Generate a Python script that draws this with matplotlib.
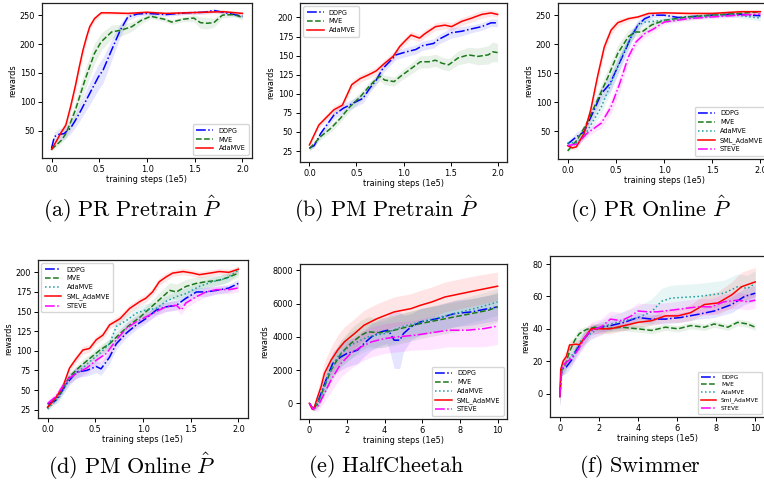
import numpy as np
import matplotlib
matplotlib.use("Agg")
import matplotlib.pyplot as plt

plt.rcParams['mathtext.fontset'] = 'cm'
plt.rcParams['font.family'] = ['DejaVu Sans']

# ---------------- Panel (a) PR Pretrain ----------------
a_x_ddpg = [0, 0.03, 0.08, 0.13, 0.2, 0.25, 0.31, 0.42, 0.49, 0.54, 0.63, 0.72, 0.8, 0.9, 1.0, 1.2, 1.4, 1.6, 1.7, 1.8, 2.0]
a_ddpg = [20, 40, 44, 45, 55, 68, 86, 121, 143, 155, 190, 224, 247, 252, 253, 251, 254, 255, 258, 255, 248]
a_ddpg_sd = [3, 8, 10, 10, 10, 12, 15, 20, 22, 22, 18, 12, 6, 4, 3, 3, 3, 3, 3, 3, 3]
a_x_mve = [0, 0.1, 0.15, 0.2, 0.25, 0.35, 0.45, 0.52, 0.63, 0.73, 0.84, 0.94, 1.04, 1.18, 1.26, 1.38, 1.49, 1.56, 1.63, 1.7, 1.79, 1.91, 2.0]
a_mve = [18, 33, 45, 65, 86, 138, 184, 204, 221, 224, 230, 241, 248, 243, 238, 243, 245, 237, 236, 237, 250, 251, 246]
a_mve_sd = [3, 5, 8, 12, 15, 18, 18, 15, 12, 10, 8, 6, 4, 4, 4, 4, 6, 10, 10, 8, 5, 4, 4]
a_x_ada = [0, 0.05, 0.1, 0.15, 0.2, 0.25, 0.29, 0.33, 0.37, 0.4, 0.45, 0.52, 0.6, 0.8, 1.0, 1.2, 1.4, 1.6, 1.8, 2.0]
a_ada = [18, 32, 47, 60, 92, 128, 160, 190, 214, 230, 244, 254, 254, 253, 255, 253, 254, 255, 256, 253]
a_ada_sd = [3, 5, 7, 8, 10, 12, 12, 10, 9, 7, 5, 3, 3, 3, 3, 3, 3, 3, 3, 3]

# ---------------- Panel (b) PM Pretrain ----------------
b_x_ddpg = [0, 0.05, 0.12, 0.26, 0.36, 0.47, 0.57, 0.64, 0.71, 0.78, 0.85, 0.92, 1.03, 1.13, 1.2, 1.32, 1.37, 1.51, 1.62, 1.72, 1.83, 1.93, 2.0]
b_ddpg = [29, 32, 48, 72, 81, 88, 94, 107, 118, 133, 142, 151, 155, 158, 163, 166, 171, 180, 182, 185, 188, 193, 193]
b_ddpg_sd = [3, 3, 4, 5, 6, 6, 6, 6, 6, 6, 6, 6, 6, 6, 6, 6, 6, 7, 6, 5, 5, 5, 5]
b_x_mve = [0, 0.12, 0.23, 0.33, 0.43, 0.54, 0.63, 0.7, 0.75, 0.8, 0.9, 0.97, 1.08, 1.18, 1.27, 1.34, 1.41, 1.48, 1.58, 1.69, 1.79, 1.9, 1.95, 2.0]
b_mve = [28, 44, 55, 68, 83, 96, 109, 118, 123, 118, 116, 123, 133, 142, 142, 144, 140, 138, 147, 151, 149, 151, 155, 154]
b_mve_sd = [3, 4, 5, 5, 6, 6, 6, 6, 6, 6, 6, 6, 7, 8, 8, 8, 8, 8, 9, 10, 11, 12, 13, 12]
b_x_ada = [0, 0.1, 0.26, 0.35, 0.45, 0.54, 0.63, 0.71, 0.8, 0.89, 0.96, 1.03, 1.08, 1.17, 1.23, 1.34, 1.44, 1.51, 1.62, 1.72, 1.83, 1.93, 2.0]
b_ada = [33, 59, 79, 85, 112, 120, 125, 130, 140, 149, 162, 171, 177, 173, 179, 188, 190, 188, 195, 199, 204, 206, 204]
b_ada_sd = [3, 4, 5, 5, 5, 5, 5, 5, 5, 5, 5, 5, 5, 5, 5, 5, 5, 5, 5, 5, 5, 4, 4]

# ---------------- Panel (c) PR Online ----------------
c_x_ddpg = [0, 0.09, 0.17, 0.26, 0.35, 0.44, 0.52, 0.6, 0.66, 0.73, 0.8, 0.89, 1.0, 1.15, 1.5, 1.75, 2.0]
c_ddpg = [28, 40, 49, 81, 115, 132, 161, 190, 213, 233, 244, 250, 250, 246, 250, 252, 249]
c_ddpg_sd = [4, 8, 8, 10, 12, 14, 14, 12, 10, 8, 6, 4, 3, 3, 3, 3, 3]
c_x_mve = [0, 0.1, 0.2, 0.31, 0.42, 0.52, 0.63, 0.7, 0.77, 0.87, 1.0, 1.25, 1.5, 1.78, 2.0]
c_mve = [16, 35, 64, 104, 144, 184, 213, 221, 221, 233, 241, 247, 250, 253, 256]
c_mve_sd = [3, 5, 8, 12, 14, 14, 12, 8, 6, 5, 4, 4, 3, 3, 3]
c_x_ada = [0, 0.1, 0.2, 0.35, 0.45, 0.56, 0.66, 0.73, 0.8, 1.0, 1.5, 1.75, 2.0]
c_ada = [30, 30, 49, 92, 132, 178, 213, 233, 238, 241, 250, 250, 245]
c_ada_sd = [4, 5, 8, 12, 14, 12, 10, 8, 6, 4, 4, 4, 5]
c_x_sml = [0, 0.05, 0.09, 0.17, 0.24, 0.31, 0.38, 0.45, 0.52, 0.63, 0.73, 0.84, 1.0, 1.25, 1.5, 1.8, 2.0]
c_sml = [25, 21, 23, 46, 87, 144, 195, 224, 237, 244, 247, 253, 254, 253, 253, 256, 256]
c_sml_sd = [3, 3, 4, 6, 10, 12, 10, 8, 6, 4, 3, 3, 3, 3, 3, 3, 3]
c_x_steve = [0, 0.1, 0.2, 0.35, 0.45, 0.54, 0.63, 0.71, 0.8, 0.9, 1.0, 1.25, 1.5, 1.78, 2.0]
c_steve = [25, 28, 46, 64, 92, 132, 178, 204, 218, 227, 238, 244, 247, 250, 252]
c_steve_sd = [3, 4, 6, 8, 12, 14, 12, 8, 6, 5, 4, 3, 3, 3, 3]

# ---------------- Panel (d) PM Online ----------------
d_x_ddpg = [0, 0.09, 0.2, 0.3, 0.41, 0.51, 0.56, 0.65, 0.72, 0.83, 0.93, 1.03, 1.14, 1.24, 1.35, 1.45, 1.56, 1.66, 1.77, 1.9, 2.0]
d_ddpg = [32, 37, 58, 73, 75, 80, 77, 92, 109, 123, 133, 141, 152, 156, 158, 167, 175, 175, 177, 180, 186]
d_ddpg_sd = [3, 4, 6, 7, 7, 8, 8, 8, 7, 6, 6, 6, 6, 6, 6, 6, 6, 6, 5, 5, 5]
d_x_mve = [0, 0.13, 0.23, 0.34, 0.44, 0.55, 0.65, 0.76, 0.86, 0.97, 1.07, 1.17, 1.28, 1.35, 1.45, 1.56, 1.66, 1.8, 1.9, 2.0]
d_mve = [28, 46, 67, 80, 90, 101, 109, 122, 133, 143, 154, 165, 177, 175, 182, 186, 188, 190, 194, 199]
d_mve_sd = [3, 4, 5, 6, 6, 6, 6, 6, 6, 7, 8, 9, 10, 10, 9, 8, 7, 6, 6, 5]
d_x_ada = [0, 0.13, 0.23, 0.34, 0.44, 0.55, 0.65, 0.72, 0.83, 0.93, 1.03, 1.14, 1.24, 1.35, 1.45, 1.59, 1.73, 1.87, 2.0]
d_ada = [26, 42, 65, 75, 86, 97, 109, 131, 139, 148, 152, 154, 163, 169, 173, 182, 188, 192, 203]
d_ada_sd = [3, 5, 7, 7, 7, 7, 7, 8, 8, 8, 8, 8, 7, 7, 7, 6, 6, 6, 5]
d_x_sml = [0, 0.09, 0.16, 0.23, 0.3, 0.37, 0.44, 0.51, 0.58, 0.65, 0.76, 0.86, 0.97, 1.03, 1.1, 1.17, 1.24, 1.31, 1.42, 1.52, 1.59, 1.7, 1.8, 1.9, 2.0]
d_sml = [28, 41, 54, 78, 90, 101, 103, 114, 120, 133, 141, 154, 163, 167, 175, 188, 194, 199, 201, 199, 197, 199, 201, 200, 204]
d_sml_sd = [3, 4, 5, 5, 5, 5, 5, 5, 5, 5, 5, 5, 5, 5, 5, 5, 5, 4, 4, 4, 4, 4, 4, 4, 4]
d_x_steve = [0, 0.09, 0.2, 0.3, 0.41, 0.51, 0.62, 0.72, 0.83, 0.93, 1.03, 1.14, 1.24, 1.35, 1.4, 1.45, 1.56, 1.66, 1.77, 1.9, 2.0]
d_steve = [33, 42, 63, 71, 78, 88, 97, 114, 129, 137, 143, 150, 156, 158, 152, 161, 169, 175, 178, 178, 180]
d_steve_sd = [4, 5, 6, 7, 7, 7, 7, 7, 7, 7, 6, 6, 6, 6, 6, 6, 6, 6, 5, 5, 5]

# ---------------- Panel (e) HalfCheetah ----------------
e_x_ddpg = [0, 0.2, 0.35, 0.62, 0.88, 1.24, 1.68, 2.0, 2.56, 2.9, 3.3, 3.8, 4.15, 4.3, 4.5, 4.8, 5.0, 5.4, 5.9, 6.8, 7.7, 8.6, 9.5, 10]
e_ddpg = [0, -350, -200, 600, 1400, 2400, 2800, 3000, 3200, 3600, 4000, 4300, 4400, 4200, 3800, 3800, 4200, 4600, 4900, 5100, 5400, 5500, 5700, 5800]
e_ddpg_sd = [50, 100, 200, 400, 600, 700, 800, 800, 800, 800, 800, 800, 800, 1200, 1700, 1700, 1100, 800, 800, 800, 800, 800, 800, 800]
e_x_mve = [0, 0.2, 0.44, 0.8, 1.15, 1.68, 2.2, 2.75, 3.1, 3.8, 4.5, 5.2, 5.9, 6.8, 7.7, 8.6, 9.5, 10]
e_mve = [0, -350, 0, 1000, 2000, 3000, 3600, 4100, 4300, 4250, 4400, 4600, 4800, 5000, 5200, 5400, 5600, 5800]
e_mve_sd = [50, 100, 300, 500, 700, 800, 900, 900, 900, 900, 900, 900, 900, 900, 900, 900, 900, 900]
e_x_ada = [0, 0.2, 0.62, 0.97, 1.5, 2.2, 3.1, 4.0, 4.9, 5.9, 7.0, 8.05, 9.1, 10]
e_ada = [0, -350, 400, 1600, 2800, 3500, 4000, 4200, 4600, 4900, 5200, 5500, 5800, 6100]
e_ada_sd = [50, 100, 400, 600, 700, 800, 800, 800, 800, 800, 800, 800, 800, 800]
e_x_sml = [0, 0.15, 0.27, 0.44, 0.62, 0.8, 1.15, 1.5, 1.86, 2.4, 2.9, 3.6, 4.5, 5.4, 5.9, 6.5, 7.2, 8.05, 8.9, 10]
e_sml = [0, -360, -200, 400, 1000, 1800, 2600, 3200, 3700, 4200, 4700, 5100, 5500, 5700, 5900, 6100, 6400, 6600, 6800, 7050]
e_sml_sd = [50, 100, 200, 400, 600, 700, 800, 900, 900, 900, 900, 900, 900, 900, 900, 900, 900, 900, 900, 850]
e_x_steve = [0, 0.2, 0.44, 0.8, 1.15, 1.68, 2.2, 2.75, 3.3, 4.0, 4.7, 5.6, 6.5, 7.4, 8.4, 9.3, 10]
e_steve = [0, -350, -200, 600, 1400, 2400, 3000, 3400, 3700, 3900, 4000, 4100, 4250, 4400, 4400, 4500, 4650]
e_steve_sd = [50, 100, 300, 500, 700, 800, 900, 900, 900, 900, 900, 900, 1000, 1000, 1000, 1100, 1100]

# ---------------- Panel (f) Swimmer ----------------
f_x_ddpg = [0, 0.1, 0.34, 0.6, 0.85, 1.2, 1.6, 2.1, 2.6, 3.3, 4.0, 4.7, 5.4, 6.2, 7.1, 7.9, 8.8, 9.45, 10]
f_ddpg = [-2, 15, 16.5, 20.6, 27, 33, 39, 41, 42, 44, 47, 46, 46, 47, 49, 51, 55, 60, 62]
f_ddpg_sd = [6, 4, 4, 4, 4, 4, 3, 3, 3, 3, 3, 3, 3, 3, 3, 4, 5, 5, 5]
f_x_mve = [0, 0.1, 0.25, 0.5, 0.77, 1.0, 1.36, 1.8, 2.3, 3.15, 4.0, 4.7, 5.4, 6.05, 6.7, 7.4, 7.9, 8.6, 9.1, 9.6, 10]
f_mve = [-2, 15, 16.5, 26, 33, 37, 39.6, 41, 40, 41, 40, 39, 41, 40, 42, 41, 43, 41, 44, 43, 41]
f_mve_sd = [6, 4, 4, 4, 3, 3, 2, 2, 2, 2, 2, 2, 2, 2, 2, 2, 2, 2, 2, 2, 2]
f_x_ada = [0, 0.1, 0.43, 0.77, 1.1, 1.45, 1.96, 2.6, 3.3, 4.0, 4.7, 5.2, 5.7, 6.4, 7.1, 7.75, 8.4, 9.1, 9.6, 10]
f_ada = [-2, 15, 20.6, 26, 33, 36, 40, 43, 45, 47, 50.5, 57, 59, 59.5, 60, 61, 62, 66, 65, 68]
f_ada_sd = [6, 4, 4, 4, 4, 4, 4, 5, 6, 7, 8, 8, 8, 8, 8, 8, 8, 8, 8, 8]
f_x_sml = [0, 0.05, 0.17, 0.34, 0.5, 0.85, 1.0, 1.3, 1.6, 2.1, 2.6, 3.3, 4.0, 4.7, 5.4, 6.05, 6.7, 7.4, 8.1, 8.8, 9.3, 10]
f_sml = [-2, 15, 20, 23, 30, 30.5, 30, 35, 40, 40, 40, 42, 44, 45, 48, 48, 50, 55, 56, 61, 66, 69]
f_sml_sd = [6, 4, 4, 4, 3, 3, 3, 3, 3, 3, 3, 3, 3, 3, 4, 4, 5, 6, 7, 8, 9, 9]
f_x_steve = [0, 0.1, 0.25, 0.6, 0.94, 1.3, 1.6, 2.1, 2.6, 3.15, 3.66, 4.0, 4.5, 5.0, 5.7, 6.4, 7.1, 7.75, 8.4, 9.1, 9.6, 10]
f_steve = [-2, 15, 18.6, 21.6, 27, 35, 39, 41, 46, 45, 48, 51, 50.5, 50.5, 51.5, 52.6, 53.6, 53.6, 56.7, 57.7, 56.7, 57.7]
f_steve_sd = [6, 4, 4, 4, 4, 5, 5, 5, 5, 5, 5, 5, 5, 5, 5, 5, 5, 5, 5, 5, 5, 5]

captions = [r"$\mathrm{(a)\ PR\ Pretrain}\ \hat{P}$",
            r"$\mathrm{(b)\ PM\ Pretrain}\ \hat{P}$",
            r"$\mathrm{(c)\ PR\ Online}\ \hat{P}$",
            r"$\mathrm{(d)\ PM\ Online}\ \hat{P}$",
            r"$\mathrm{(e)\ HalfCheetah}$",
            r"$\mathrm{(f)\ Swimmer}$"]

C_DDPG = '#0000ff'
C_MVE = '#1a7a1a'
C_RED = '#ff0000'
C_TEAL = '#1a9e9e'
C_MAG = '#ff00ff'

W, H = 764, 483
fig = plt.figure(figsize=(W / 100, H / 100), dpi=100)


def add_ax(left, top, right, bottom):
    return fig.add_axes([left / W, 1 - bottom / H, (right - left) / W, (bottom - top) / H])


def curve(ax, x, y, sd, color, ls, label, lw=1.1):
    x = np.asarray(x, float)
    y = np.asarray(y, float)
    sd = np.asarray(sd, float)
    ax.fill_between(x, y - sd, y + sd, color=color, alpha=0.1, lw=0)
    ax.plot(x, y, color=color, ls=ls, lw=lw, label=label)


def style(ax, ylim, xticks, loc, legfs=4.7):
    ax.set_ylim(*ylim)
    ax.set_xticks(xticks)
    ax.tick_params(labelsize=5.9, length=3, width=0.7, pad=2)
    ax.set_xlabel("training steps (1e5)", fontsize=5.9, labelpad=1)
    ax.set_ylabel("rewards", fontsize=5.9, labelpad=2)
    for s in ax.spines.values():
        s.set_linewidth(0.9)
        s.set_color('#222222')
    ax.legend(loc=loc, fontsize=legfs, handlelength=2.6, borderpad=0.5,
              labelspacing=0.45, framealpha=0.8)


# (a)
ax = add_ax(42, 3, 252, 158)
curve(ax, a_x_ddpg, a_ddpg, a_ddpg_sd, C_DDPG, '-.', 'DDPG')
curve(ax, a_x_mve, a_mve, a_mve_sd, C_MVE, '--', 'MVE')
curve(ax, a_x_ada, a_ada, a_ada_sd, C_RED, '-', 'AdaMVE')
style(ax, (3, 271), [0, 0.5, 1.0, 1.5, 2.0], 'lower right')

# (b)
ax = add_ax(300, 3, 507, 162)
curve(ax, b_x_ddpg, b_ddpg, b_ddpg_sd, C_DDPG, '-.', 'DDPG')
curve(ax, b_x_mve, b_mve, b_mve_sd, C_MVE, '--', 'MVE')
curve(ax, b_x_ada, b_ada, b_ada_sd, C_RED, '-', 'AdaMVE')
style(ax, (10.6, 219), [0, 0.5, 1.0, 1.5, 2.0], 'upper left')

# (c)
ax = add_ax(558, 3, 770, 159)
curve(ax, c_x_ddpg, c_ddpg, c_ddpg_sd, C_DDPG, '-.', 'DDPG')
curve(ax, c_x_mve, c_mve, c_mve_sd, C_MVE, '--', 'MVE')
curve(ax, c_x_ada, c_ada, c_ada_sd, C_TEAL, ':', 'AdaMVE')
curve(ax, c_x_sml, c_sml, c_sml_sd, C_RED, '-', 'SML_AdaMVE')
curve(ax, c_x_steve, c_steve, c_steve_sd, C_MAG, '-.', 'STEVE')
style(ax, (2, 271), [0, 0.5, 1.0, 1.5, 2.0], 'lower right')

# (d)
ax = add_ax(38, 260, 248, 418)
curve(ax, d_x_ddpg, d_ddpg, d_ddpg_sd, C_DDPG, '-.', 'DDPG')
curve(ax, d_x_mve, d_mve, d_mve_sd, C_MVE, '--', 'MVE')
curve(ax, d_x_ada, d_ada, d_ada_sd, C_TEAL, ':', 'AdaMVE')
curve(ax, d_x_sml, d_sml, d_sml_sd, C_RED, '-', 'SML_AdaMVE')
curve(ax, d_x_steve, d_steve, d_steve_sd, C_MAG, '-.', 'STEVE')
style(ax, (14.4, 215.7), [0, 0.5, 1.0, 1.5, 2.0], 'upper left')

# (e)
ax = add_ax(300, 264, 507, 419)
curve(ax, e_x_ddpg, e_ddpg, e_ddpg_sd, C_DDPG, '-.', 'DDPG')
curve(ax, e_x_mve, e_mve, e_mve_sd, C_MVE, '--', 'MVE')
curve(ax, e_x_ada, e_ada, e_ada_sd, C_TEAL, ':', 'AdaMVE')
curve(ax, e_x_sml, e_sml, e_sml_sd, C_RED, '-', 'SML_AdaMVE')
curve(ax, e_x_steve, e_steve, e_steve_sd, C_MAG, '-.', 'STEVE')
style(ax, (-946, 8386), [0, 2, 4, 6, 8, 10], 'lower right')

# (f)
ax = add_ax(550, 256, 765, 417)
curve(ax, f_x_ddpg, f_ddpg, f_ddpg_sd, C_DDPG, '-.', 'DDPG')
curve(ax, f_x_mve, f_mve, f_mve_sd, C_MVE, '--', 'MVE')
curve(ax, f_x_ada, f_ada, f_ada_sd, C_TEAL, ':', 'AdaMVE')
curve(ax, f_x_sml, f_sml, f_sml_sd, C_RED, '-', 'Sml_AdaMVE')
curve(ax, f_x_steve, f_steve, f_steve_sd, C_MAG, '-.', 'STEVE')
style(ax, (-14.5, 85), [0, 2, 4, 6, 8, 10], 'lower right', legfs=4.2)

cap_pos = [(132, 209), (386, 209), (650, 209), (132, 466), (386, 466), (640, 466)]
for (cx, cy), txt in zip(cap_pos, captions):
    fig.text(cx / W, 1 - cy / H, txt, ha='center', va='center', fontsize=16)

fig.savefig("out.png", dpi=100)
